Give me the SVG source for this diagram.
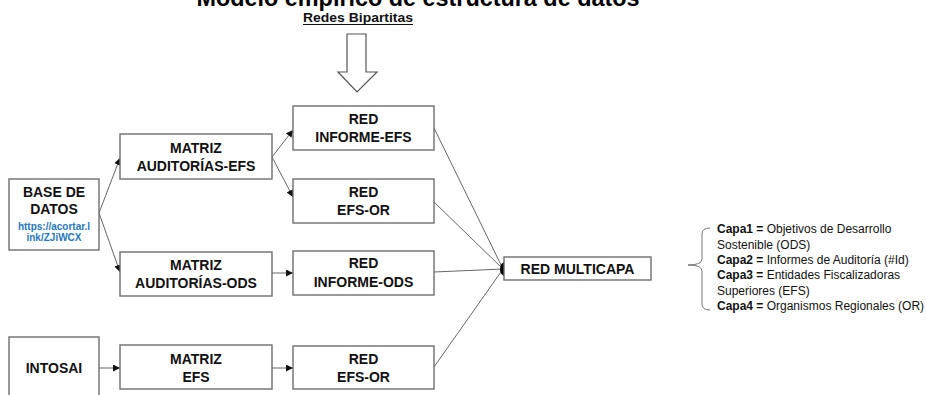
<svg xmlns="http://www.w3.org/2000/svg" width="926" height="395" viewBox="0 0 926 395">
<defs>
<style>
.box{fill:#fff;stroke:#6e6e6e;stroke-width:1.4}
.t{font-family:"Liberation Sans",Arial,sans-serif;font-weight:bold;font-size:14px;fill:#111;text-anchor:middle}
.url{font-family:"Liberation Sans",Arial,sans-serif;font-weight:bold;font-size:10px;fill:#1f78c1;text-anchor:middle}
.c{fill:none;stroke:#555;stroke-width:0.9}
.lg{font-family:"Liberation Sans",Arial,sans-serif;font-size:12px;fill:#111}
.lg tspan.b{font-weight:bold}
</style>
<marker id="ah" viewBox="0 0 8 8" refX="8" refY="4" markerWidth="7" markerHeight="7" markerUnits="userSpaceOnUse" orient="auto">
<path d="M0,0 L8,4 L0,8 Z" fill="#111"/>
</marker>
</defs>
<rect width="926" height="395" fill="#fff"/>
<text x="418" y="6" font-family="Liberation Sans,Arial,sans-serif" font-weight="bold" font-size="24" text-anchor="middle" textLength="443" lengthAdjust="spacingAndGlyphs" fill="#000">Modelo empírico de estructura de datos</text>
<g id="redes-bipartitas">
<text x="358" y="22" font-family="Liberation Sans,Arial,sans-serif" font-weight="bold" font-size="13" text-anchor="middle" textLength="110" lengthAdjust="spacingAndGlyphs" fill="#111">Redes Bipartitas</text>
<line x1="303" y1="24.5" x2="413" y2="24.5" stroke="#111" stroke-width="1"/>
<path d="M347,34 H366 V72 H377 L357,92 L338,72 H347 Z" fill="#fff" stroke="#555" stroke-width="1.2"/>
</g>
<g id="connectors">
<line class="c" x1="99" y1="213" x2="120" y2="158" marker-end="url(#ah)"/>
<line class="c" x1="99" y1="213" x2="120" y2="272" marker-end="url(#ah)"/>
<line class="c" x1="272" y1="157" x2="293" y2="130" marker-end="url(#ah)"/>
<line class="c" x1="272" y1="157" x2="293" y2="197" marker-end="url(#ah)"/>
<line class="c" x1="272" y1="273" x2="293" y2="273" marker-end="url(#ah)"/>
<line class="c" x1="99" y1="368" x2="120" y2="368" marker-end="url(#ah)"/>
<line class="c" x1="272" y1="368" x2="293" y2="368" marker-end="url(#ah)"/>
<line class="c" x1="434" y1="128" x2="503" y2="269"/>
<line class="c" x1="434" y1="202" x2="503" y2="269"/>
<line class="c" x1="434" y1="272" x2="503" y2="269"/>
<line class="c" x1="434" y1="367" x2="503" y2="269"/>
<path d="M505,262 A5,7 0 0 0 505,276 Z" fill="#000"/>
</g>
<g id="base-datos">
<rect class="box" x="9" y="179" width="90" height="71"/>
<text class="t" x="54" y="197">BASE DE</text>
<text class="t" x="54" y="214">DATOS</text>
<text class="url" x="54" y="230">https://acortar.l</text>
<text class="url" x="54" y="241">ink/ZJiWCX</text>
</g>
<g id="intosai">
<rect class="box" x="9" y="337" width="90" height="70"/>
<text class="t" x="54" y="373">INTOSAI</text>
</g>
<g id="matriz-auditorias-efs">
<rect class="box" x="120" y="134" width="152" height="45"/>
<text class="t" x="196" y="153">MATRIZ</text>
<text class="t" x="196" y="171">AUDITORÍAS-EFS</text>
</g>
<g id="matriz-auditorias-ods">
<rect class="box" x="120" y="252" width="152" height="44"/>
<text class="t" x="196" y="270">MATRIZ</text>
<text class="t" x="196" y="288">AUDITORÍAS-ODS</text>
</g>
<g id="matriz-efs">
<rect class="box" x="120" y="345" width="152" height="44"/>
<text class="t" x="196" y="364">MATRIZ</text>
<text class="t" x="196" y="382">EFS</text>
</g>
<g id="red-informe-efs">
<rect class="box" x="293" y="106" width="141" height="44"/>
<text class="t" x="363.5" y="124">RED</text>
<text class="t" x="363.5" y="142">INFORME-EFS</text>
</g>
<g id="red-efs-or-1">
<rect class="box" x="293" y="179" width="141" height="44"/>
<text class="t" x="363.5" y="197">RED</text>
<text class="t" x="363.5" y="215">EFS-OR</text>
</g>
<g id="red-informe-ods">
<rect class="box" x="293" y="251" width="141" height="44"/>
<text class="t" x="363.5" y="268">RED</text>
<text class="t" x="363.5" y="287">INFORME-ODS</text>
</g>
<g id="red-efs-or-2">
<rect class="box" x="293" y="346" width="141" height="43"/>
<text class="t" x="363.5" y="364">RED</text>
<text class="t" x="363.5" y="382">EFS-OR</text>
</g>
<g id="red-multicapa">
<rect class="box" x="504" y="257" width="147" height="23"/>
<text class="t" x="577.5" y="274">RED MULTICAPA</text>
</g>
<g id="leyenda">
<path d="M710,228 Q702,228 702,234 V259 Q702,265 688,265 Q702,265 702,271 V304 Q702,310 710,310" fill="none" stroke="#666" stroke-width="0.9"/>
<text class="lg" x="717" y="233"><tspan class="b">Capa1 =</tspan> Objetivos de Desarrollo</text>
<text class="lg" x="717" y="249">Sostenible (ODS)</text>
<text class="lg" x="717" y="264"><tspan class="b">Capa2 =</tspan> Informes de Auditoría (#Id)</text>
<text class="lg" x="717" y="279"><tspan class="b">Capa3 =</tspan> Entidades Fiscalizadoras</text>
<text class="lg" x="717" y="295">Superiores (EFS)</text>
<text class="lg" x="717" y="310"><tspan class="b">Capa4 =</tspan> Organismos Regionales (OR)</text>
</g>
</svg>
